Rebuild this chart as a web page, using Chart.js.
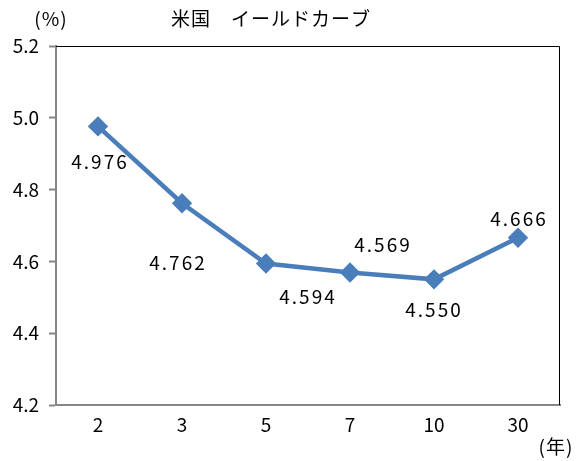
<!DOCTYPE html>
<html lang="ja">
<head>
    <meta charset="UTF-8">
    <title>米国 イールドカーブ</title>
    <script src="https://cdn.jsdelivr.net/npm/chart.js"></script>
    <style>
        html, body { margin: 0; padding: 0; background: #fff; }
        #wrap { width: 578px; height: 461px; }
    </style>
</head>
<body>
    <div id="wrap"><canvas id="curve" width="578" height="461"></canvas></div>

    <script>
        // データ
        const maturities = ['2', '3', '5', '7', '10', '30'];
        const yields = [4.976, 4.762, 4.594, 4.569, 4.550, 4.666];
        const yTicks = [4.2, 4.4, 4.6, 4.8, 5.0, 5.2];

        const FONT = "'Noto Sans CJK JP', sans-serif";
        const LINE = '#4a7ebb';

        // ラベル位置 (点からのずれ)
        const labelShift = [[2, 35], [-4, 60], [42, 33], [33, -28], [0, 30], [1, -19]];

        const decor = {
            id: 'decor',
            afterDraw(chart) {
                const ctx = chart.ctx;
                const a = chart.chartArea;
                ctx.save();
                // 枠 (上・右)
                ctx.strokeStyle = '#000';
                ctx.lineWidth = 1;
                ctx.beginPath();
                ctx.moveTo(a.left, a.top + 0.5);
                ctx.lineTo(a.right - 0.5, a.top + 0.5);
                ctx.lineTo(a.right - 0.5, a.bottom);
                ctx.stroke();

                ctx.fillStyle = '#000';
                ctx.textAlign = 'center';
                ctx.textBaseline = 'middle';
                ctx.font = '19px ' + FONT;
                ctx.letterSpacing = '1px';
                ctx.fillText('米国　イールドカーブ', 271, 19);
                ctx.fillText('(%)', 51, 19);
                ctx.fillText('(年)', 556, 447);

                // データラベル
                ctx.font = '19px ' + FONT;
                ctx.letterSpacing = '2px';
                const meta = chart.getDatasetMeta(0);
                meta.data.forEach((pt, i) => {
                    const s = labelShift[i];
                    ctx.fillText(yields[i].toFixed(3), pt.x + s[0], pt.y + s[1]);
                });
                ctx.restore();
            }
        };

        new Chart(document.getElementById('curve'), {
            type: 'line',
            data: {
                labels: maturities,
                datasets: [{
                    data: yields,
                    borderColor: LINE,
                    backgroundColor: LINE,
                    borderWidth: 4.5,
                    pointStyle: 'rectRot',
                    pointRadius: 7,
                    pointHoverRadius: 7,
                    tension: 0
                }]
            },
            options: {
                responsive: false,
                animation: false,
                layout: { padding: { top: 46, right: 18, left: 0, bottom: 0 } },
                plugins: { legend: { display: false }, tooltip: { enabled: false } },
                scales: {
                    x: {
                        offset: true,
                        grid: { display: false, drawTicks: false },
                        border: { color: '#868686', width: 2 },
                        ticks: { color: '#000', font: { family: FONT, size: 19 }, padding: 8 },
                        afterFit(s) { s.height = 56; }
                    },
                    y: {
                        min: 4.2,
                        max: 5.2,
                        afterBuildTicks(s) { s.ticks = yTicks.map(v => ({ value: v })); },
                        grid: { drawOnChartArea: false, tickLength: 7, color: '#868686', tickWidth: 2 },
                        border: { color: '#868686', width: 2 },
                        ticks: {
                            color: '#000',
                            font: { family: FONT, size: 19 },
                            padding: 10,
                            callback: v => v.toFixed(1)
                        },
                        afterFit(s) { s.width = 56; }
                    }
                }
            },
            plugins: [decor]
        });
    </script>
</body>
</html>
